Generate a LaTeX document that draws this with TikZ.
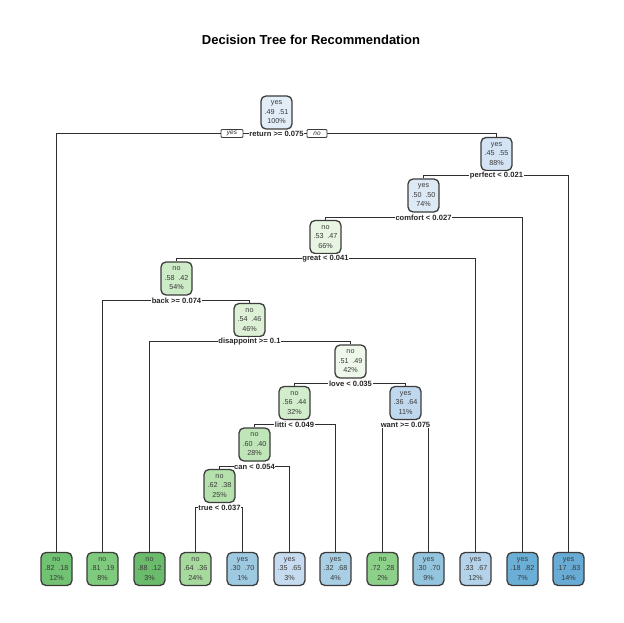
\documentclass[tikz,border=0pt]{standalone}
\usepackage{fontspec}
\setmainfont{Liberation Sans}
\usetikzlibrary{backgrounds}
\definecolor{bordergray}{HTML}{3C3C3C}
\definecolor{linegray}{HTML}{2E2E2E}
\definecolor{txtgray}{HTML}{3A3A3A}
% leaves
\definecolor{cA}{HTML}{72C273}
\definecolor{cB}{HTML}{7ECB7D}
\definecolor{cC}{HTML}{6ABB6B}
\definecolor{cD}{HTML}{A6DA9C}
\definecolor{cE}{HTML}{9ECAE1}
\definecolor{cF}{HTML}{C6DBEF}
\definecolor{cG}{HTML}{A9CFE5}
\definecolor{cH}{HTML}{8DD08A}
\definecolor{cI}{HTML}{94C5DF}
\definecolor{cJ}{HTML}{B4D3EA}
\definecolor{cK}{HTML}{6BAED6}
\definecolor{cL}{HTML}{68ABD4}
% internal
\definecolor{iR}{HTML}{E2EDF8}
\definecolor{iP}{HTML}{D4E4F4}
\definecolor{iC}{HTML}{DDE9F5}
\definecolor{iG}{HTML}{E8F5E2}
\definecolor{iB}{HTML}{CDEBC6}
\definecolor{iD}{HTML}{DCF1D5}
\definecolor{iL}{HTML}{EEF8EA}
\definecolor{iI}{HTML}{D2EDCB}
\definecolor{iW}{HTML}{C0D8EE}
\definecolor{iN}{HTML}{BFE5B8}
\definecolor{iT}{HTML}{B5E1AD}
\newcommand{\gapsp}{\hspace{0.55em}}
\begin{document}
\begin{tikzpicture}[x=1pt,y=-1pt,
  tnode/.style={draw=bordergray, line width=1.3pt, rounded corners=5pt,
    minimum width=31pt, minimum height=33pt, inner sep=0pt, align=center,
    font=\fontsize{7.2}{9.5}\selectfont, text=txtgray},
  splitlbl/.style={fill=white, inner sep=0.6pt,
    font=\fontsize{7.6}{8}\selectfont\bfseries, text=black!85},
  ynbox/.style={draw=bordergray, fill=white, rounded corners=1pt, line width=0.8pt,
    minimum width=22pt, minimum height=8pt, inner sep=0pt,
    font=\fontsize{6.5}{7}\selectfont\itshape, text=black!85},
  branch/.style={draw=linegray, line width=1.6pt, line join=miter}
]
\useasboundingbox (0,0) rectangle (624,623);
\node[font=\fontsize{13}{15}\selectfont\bfseries] (title) at (311,39.5) {Decision Tree for Recommendation};

% internal nodes
\node[tnode, fill=iR] (R) at (276.5,112.5) {yes\\.49\gapsp.51\\100\%};
\node[tnode, fill=iP] (P) at (496.5,154) {yes\\.45\gapsp.55\\88\%};
\node[tnode, fill=iC] (C) at (423.5,195.5) {yes\\.50\gapsp.50\\74\%};
\node[tnode, fill=iG] (G) at (325.5,237) {no\\.53\gapsp.47\\66\%};
\node[tnode, fill=iB] (B) at (176.5,278.5) {no\\.58\gapsp.42\\54\%};
\node[tnode, fill=iD] (D) at (249.5,320) {no\\.54\gapsp.46\\46\%};
\node[tnode, fill=iL] (L) at (350.5,361.5) {no\\.51\gapsp.49\\42\%};
\node[tnode, fill=iI] (I) at (294.5,403) {no\\.56\gapsp.44\\32\%};
\node[tnode, fill=iW] (W) at (405.5,403) {yes\\.36\gapsp.64\\11\%};
\node[tnode, fill=iN] (N) at (254.5,444.5) {no\\.60\gapsp.40\\28\%};
\node[tnode, fill=iT] (T) at (219.5,486) {no\\.62\gapsp.38\\25\%};

% leaves
\node[tnode, fill=cA] (f0) at (56.5,569) {no\\.82\gapsp.18\\12\%};
\node[tnode, fill=cB] (f1) at (102.5,569) {no\\.81\gapsp.19\\8\%};
\node[tnode, fill=cC] (f2) at (149.5,569) {no\\.88\gapsp.12\\3\%};
\node[tnode, fill=cD] (f3) at (195.5,569) {no\\.64\gapsp.36\\24\%};
\node[tnode, fill=cE] (f4) at (242.5,569) {yes\\.30\gapsp.70\\1\%};
\node[tnode, fill=cF] (f5) at (289.5,569) {yes\\.35\gapsp.65\\3\%};
\node[tnode, fill=cG] (f6) at (335.5,569) {yes\\.32\gapsp.68\\4\%};
\node[tnode, fill=cH] (f7) at (382.5,569) {no\\.72\gapsp.28\\2\%};
\node[tnode, fill=cI] (f8) at (428.5,569) {yes\\.30\gapsp.70\\9\%};
\node[tnode, fill=cJ] (f9) at (475.5,569) {yes\\.33\gapsp.67\\12\%};
\node[tnode, fill=cK] (f10) at (522.5,569) {yes\\.18\gapsp.82\\7\%};
\node[tnode, fill=cL] (f11) at (568.5,569) {yes\\.17\gapsp.83\\14\%};

% split labels
\node[splitlbl] (sR) at (276.5,133.5) {return >= 0.075};
\node[ynbox] (yes) at (232,133.5) {yes};
\node[ynbox, minimum width=20pt] (no) at (317,133.5) {no};
\node[splitlbl] (sP) at (496.5,175.5) {perfect < 0.021};
\node[splitlbl] (sC) at (423.5,217.5) {comfort < 0.027};
\node[splitlbl] (sG) at (325.5,258.5) {great < 0.041};
\node[splitlbl] (sB) at (176.5,300.5) {back >= 0.074};
\node[splitlbl] (sD) at (249.5,341.5) {disappoint >= 0.1};
\node[splitlbl] (sL) at (350.5,383.5) {love < 0.035};
\node[splitlbl] (sI) at (294.5,424.5) {litti < 0.049};
\node[splitlbl] (sW) at (405.5,424.5) {want >= 0.075};
\node[splitlbl] (sN) at (254.5,466.5) {can < 0.054};
\node[splitlbl] (sT) at (219.5,507.5) {true < 0.037};

\begin{scope}[on background layer]
\fill[white] (0,0) rectangle (624,623);
\draw[branch] (f0.north) |- (sR.center) -| (P.north);
\draw[branch] (C.north) |- (sP.center) -| (f11.north);
\draw[branch] (G.north) |- (sC.center) -| (f10.north);
\draw[branch] (B.north) |- (sG.center) -| (f9.north);
\draw[branch] (f1.north) |- (sB.center) -| (D.north);
\draw[branch] (f2.north) |- (sD.center) -| (L.north);
\draw[branch] (I.north) |- (sL.center) -| (W.north);
\draw[branch] (N.north) |- (sI.center) -| (f6.north);
\draw[branch] (f7.north) |- (sW.center) -| (f8.north);
\draw[branch] (T.north) |- (sN.center) -| (f5.north);
\draw[branch] (f3.north) |- (sT.center) -| (f4.north);
\end{scope}
\end{tikzpicture}
\end{document}
